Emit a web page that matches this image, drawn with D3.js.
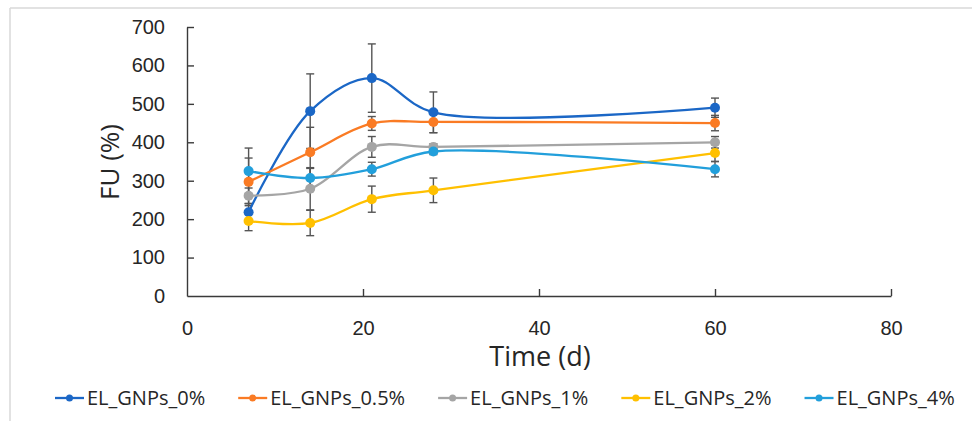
<!DOCTYPE html>
<html>
<head>
<meta charset="utf-8">
<script src="https://cdn.jsdelivr.net/npm/d3@7"></script>
<style>
  body { margin: 0; background: #fff; }
  svg { font-family: "Open Sans", sans-serif; }
</style>
</head>
<body>
<svg id="chart" width="972" height="421"></svg>
<script>
// days sampled
let days = [7, 14, 21, 28, 60]

let seriesNames = ["EL_GNPs_0%", "EL_GNPs_0.5%", "EL_GNPs_1%", "EL_GNPs_2%", "EL_GNPs_4%"]
let seriesColors = ["#1b67c6", "#fa7b24", "#a5a5a5", "#ffc000", "#229fdb"]

// FU values per series
let fu0 = [218, 481, 567, 478, 490]
let fu05 = [297, 374, 449, 453, 450]
let fu1 = [261, 279, 388, 388, 400]
let fu2 = [195, 190, 252, 275, 372]
let fu4 = [325, 307, 330, 376, 330]

// error bar half widths
let err0 = [22, 97, 89, 53, 25]
let err05 = [62, 65, 18, 28, 20]
let err1 = [20, 55, 27, 8, 15]
let err2 = [25, 33, 34, 32, 22]
let err4 = [60, 25, 18, 8, 20]

let xTicks = [0, 20, 40, 60, 80]
let yTicks = [0, 100, 200, 300, 400, 500, 600, 700]

let allValues = [fu0, fu05, fu1, fu2, fu4]
let allErrors = [err0, err05, err1, err2, err4]

let svg = d3.select("#chart")

// light frame of the figure
svg.append("line").attr("x1", 10).attr("x2", 972).attr("y1", 8).attr("y2", 8)
  .attr("stroke", "#d9d9d9").attr("stroke-width", 1.5)
svg.append("line").attr("x1", 10).attr("x2", 10).attr("y1", 8).attr("y2", 421)
  .attr("stroke", "#d9d9d9").attr("stroke-width", 1.5)

let x = d3.scaleLinear().domain([0, 80]).range([187, 891])
let y = d3.scaleLinear().domain([0, 700]).range([296, 27])

let yAxis = d3.axisLeft(y).tickValues(yTicks).tickSizeInner(-7).tickSizeOuter(0).tickPadding(22)
let xAxis = d3.axisBottom(x).tickValues(xTicks).tickSizeInner(-7).tickSizeOuter(0).tickPadding(25)

let gy = svg.append("g").attr("transform", "translate(" + x(0) + ",0)").call(yAxis)
let gx = svg.append("g").attr("transform", "translate(0," + y(0) + ")").call(xAxis)

for (let g of [gx, gy]) {
  g.selectAll("path, line").attr("stroke", "#3a3a3a").attr("stroke-width", 1.4)
  g.selectAll("text").attr("fill", "#262626").attr("font-size", 20)
}
gx.selectAll(".tick").filter(d => d == 0).select("line").remove()
gy.selectAll(".tick").filter(d => d == 0).select("line").remove()

svg.append("text").attr("x", 540).attr("y", 366).attr("text-anchor", "middle")
  .attr("font-size", 27).attr("fill", "#262626").text("Time (d)")
svg.append("text").attr("transform", "translate(119,162) rotate(-90)").attr("text-anchor", "middle")
  .attr("font-size", 26).attr("fill", "#262626").text("FU (%)")

let line = d3.line()
  .x(d => x(d[0]))
  .y(d => y(d[1]))
  .curve(d3.curveCatmullRom.alpha(0.5))

// error bars first, then lines and markers
for (let s = 0; s < allValues.length; s++) {
  let vals = allValues[s]
  let errs = allErrors[s]
  for (let i = 0; i < days.length; i++) {
    let cx = x(days[i])
    let top = y(vals[i] + errs[i])
    let bot = y(vals[i] - errs[i])
    svg.append("line").attr("x1", cx).attr("x2", cx).attr("y1", top).attr("y2", bot)
      .attr("stroke", "#555").attr("stroke-width", 1.4)
    svg.append("line").attr("x1", cx - 4).attr("x2", cx + 4).attr("y1", top).attr("y2", top)
      .attr("stroke", "#555").attr("stroke-width", 1.4)
    svg.append("line").attr("x1", cx - 4).attr("x2", cx + 4).attr("y1", bot).attr("y2", bot)
      .attr("stroke", "#555").attr("stroke-width", 1.4)
  }
}

for (let s = 0; s < allValues.length; s++) {
  let pts = days.map((d, i) => [d, allValues[s][i]])
  svg.append("path").datum(pts).attr("d", line)
    .attr("fill", "none").attr("stroke", seriesColors[s]).attr("stroke-width", 2.3)
  svg.selectAll(null).data(pts).enter().append("circle")
    .attr("cx", d => x(d[0])).attr("cy", d => y(d[1])).attr("r", 5)
    .attr("fill", seriesColors[s])
}

// legend
let legend = svg.append("g").attr("transform", "translate(55,398)")
let lx = 0
for (let s = 0; s < seriesNames.length; s++) {
  let item = legend.append("g").attr("transform", "translate(" + lx + ",0)")
  item.append("line").attr("x1", 0).attr("x2", 29).attr("y1", 0).attr("y2", 0)
    .attr("stroke", seriesColors[s]).attr("stroke-width", 2.3)
  item.append("circle").attr("cx", 14.5).attr("cy", 0).attr("r", 3.5).attr("fill", seriesColors[s])
  let t = item.append("text").attr("x", 32).attr("y", 7).attr("font-size", 20)
    .attr("fill", "#262626").text(seriesNames[s])
  lx += 32 + t.node().getComputedTextLength() + 33
}
</script>
</body>
</html>
